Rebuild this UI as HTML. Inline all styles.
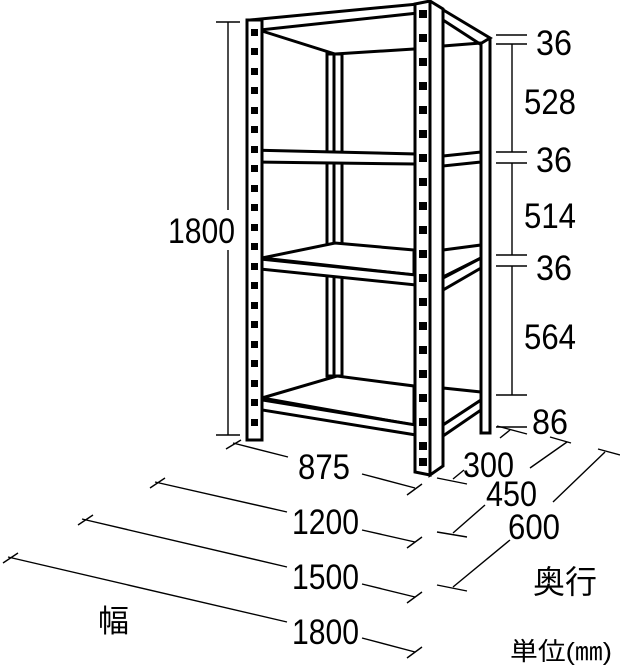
<!DOCTYPE html>
<html><head><meta charset="utf-8"><style>
html,body{margin:0;padding:0;background:#fff;}
svg{display:block}
text{font-family:"Liberation Sans","Noto Sans CJK JP",sans-serif;fill:#000}
.n{font-size:35px}
</style></head><body>
<svg width="620" height="665" viewBox="0 0 620 665" xmlns="http://www.w3.org/2000/svg">
<g stroke="#000" stroke-width="3" fill="none" stroke-linejoin="miter">
 <rect x="327" y="54" width="7" height="322" fill="#fff"/>
 <rect x="334" y="54" width="8" height="322" fill="#fff"/>
 <rect x="481" y="39" width="9" height="394" fill="#fff"/>
 <polygon points="250,20 418,4 418,13 250,31" fill="#fff"/>
 <polyline points="262,31 335,54 414,49"/>
 <polygon points="430,2 490,38 480,44 443,20" fill="#fff"/>
 <line x1="443" y1="46" x2="481" y2="43"/>
 <polygon points="250,150 416,154 416,164 250,162" fill="#fff"/>
 <polygon points="443,156 481,152 481,162 443,166" fill="#fff"/>
 <polygon points="262,258 335,243 414,250 414,275" fill="#fff"/>
 <polygon points="250,258 416,275 416,285 250,268" fill="#fff"/>
 <polygon points="443,250 481,245 481,258 443,277" fill="#fff"/>
 <polygon points="443,278 481,258 481,268 443,290" fill="#fff"/>
 <polygon points="262,398 337,376 414,386 414,425" fill="#fff"/>
 <polygon points="250,398 416,425 416,435 250,408" fill="#fff"/>
 <polygon points="443,388 481,392 481,400 443,425" fill="#fff"/>
 <polygon points="443,425 481,400 481,410 443,436" fill="#fff"/>
 <rect x="247" y="20" width="15" height="420" fill="#fff"/>
 <polygon points="415,4 430,1 430,475 415,472" fill="#fff"/>
 <polygon points="430,1 443,9 443,466 430,475" fill="#fff"/>
</g>
<g fill="#000">
 <rect x="251" y="29" width="7" height="7"/><rect x="251" y="48" width="7" height="7"/><rect x="251" y="68" width="7" height="7"/><rect x="251" y="87" width="7" height="7"/><rect x="251" y="107" width="7" height="7"/><rect x="251" y="126" width="7" height="7"/><rect x="251" y="146" width="7" height="7"/><rect x="251" y="165" width="7" height="7"/><rect x="251" y="185" width="7" height="7"/><rect x="251" y="204" width="7" height="7"/><rect x="251" y="224" width="7" height="7"/><rect x="251" y="243" width="7" height="7"/><rect x="251" y="263" width="7" height="7"/><rect x="251" y="282" width="7" height="7"/><rect x="251" y="302" width="7" height="7"/><rect x="251" y="321" width="7" height="7"/><rect x="251" y="341" width="7" height="7"/><rect x="251" y="360" width="7" height="7"/><rect x="251" y="380" width="7" height="7"/><rect x="251" y="399" width="7" height="7"/><rect x="251" y="419" width="7" height="7"/>
 <rect x="419" y="10" width="8" height="8"/><rect x="419" y="34" width="8" height="8"/><rect x="419" y="58" width="8" height="8"/><rect x="419" y="82" width="8" height="8"/><rect x="419" y="106" width="8" height="8"/><rect x="419" y="130" width="8" height="8"/><rect x="419" y="154" width="8" height="8"/><rect x="419" y="178" width="8" height="8"/><rect x="419" y="202" width="8" height="8"/><rect x="419" y="226" width="8" height="8"/><rect x="419" y="250" width="8" height="8"/><rect x="419" y="274" width="8" height="8"/><rect x="419" y="298" width="8" height="8"/><rect x="419" y="322" width="8" height="8"/><rect x="419" y="346" width="8" height="8"/><rect x="419" y="370" width="8" height="8"/><rect x="419" y="394" width="8" height="8"/><rect x="419" y="418" width="8" height="8"/><rect x="419" y="442" width="8" height="8"/><rect x="419" y="458" width="8" height="8"/>
</g>
<g stroke="#000" stroke-width="1.4" fill="none">
 <line x1="228" y1="22" x2="228" y2="210"/><line x1="228" y1="250" x2="228" y2="435"/>
 <line x1="216" y1="22" x2="240" y2="22"/><line x1="216" y1="435" x2="240" y2="435"/>
 <line x1="496" y1="35" x2="527" y2="35"/><line x1="496" y1="44" x2="527" y2="44"/>
 <line x1="496" y1="152" x2="527" y2="152"/><line x1="496" y1="163" x2="527" y2="163"/>
 <line x1="496" y1="255" x2="527" y2="255"/><line x1="496" y1="266" x2="527" y2="266"/>
 <line x1="496" y1="395" x2="527" y2="395"/>
 <line x1="496" y1="427" x2="527" y2="427"/>
 <line x1="512" y1="44" x2="512" y2="152"/><line x1="512" y1="163" x2="512" y2="255"/><line x1="512" y1="266" x2="512" y2="395"/>
 <line x1="233" y1="443" x2="288" y2="457"/><line x1="362" y1="474" x2="415" y2="488"/>
 <line x1="226" y1="449" x2="241" y2="440"/><line x1="407" y1="495" x2="422" y2="484"/>
 <line x1="155" y1="482" x2="287" y2="512"/><line x1="362" y1="530" x2="415" y2="542"/>
 <line x1="150" y1="488" x2="165" y2="478"/><line x1="407" y1="548" x2="422" y2="537"/>
 <line x1="82" y1="519" x2="287" y2="567"/><line x1="362" y1="584" x2="415" y2="597"/>
 <line x1="78" y1="525" x2="93" y2="515"/><line x1="407" y1="603" x2="422" y2="592"/>
 <line x1="8" y1="557" x2="287" y2="622"/><line x1="362" y1="638" x2="415" y2="652"/>
 <line x1="3" y1="563" x2="18" y2="553"/><line x1="407" y1="658" x2="422" y2="647"/>
 <line x1="437" y1="478" x2="467" y2="484"/><line x1="453" y1="479" x2="464" y2="470"/>
 <line x1="500" y1="438" x2="510" y2="430"/><line x1="497" y1="426" x2="527" y2="434"/>
 <line x1="437" y1="532" x2="467" y2="537"/><line x1="453" y1="533" x2="485" y2="505"/>
 <line x1="530" y1="468" x2="567" y2="442"/><line x1="550" y1="437" x2="571" y2="443"/>
 <line x1="437" y1="585" x2="467" y2="591"/><line x1="453" y1="587" x2="510" y2="540"/>
 <line x1="553" y1="502" x2="605" y2="452"/><line x1="598" y1="449" x2="620" y2="455"/>
</g>
<text class="n" x="168" y="243" textLength="67" lengthAdjust="spacingAndGlyphs">1800</text>
<text class="n" x="536" y="55" textLength="36" lengthAdjust="spacingAndGlyphs">36</text>
<text class="n" x="524" y="114" textLength="52" lengthAdjust="spacingAndGlyphs">528</text>
<text class="n" x="536" y="172" textLength="36" lengthAdjust="spacingAndGlyphs">36</text>
<text class="n" x="524" y="228" textLength="52" lengthAdjust="spacingAndGlyphs">514</text>
<text class="n" x="536" y="280" textLength="36" lengthAdjust="spacingAndGlyphs">36</text>
<text class="n" x="524" y="349" textLength="52" lengthAdjust="spacingAndGlyphs">564</text>
<text class="n" x="532" y="434" textLength="36" lengthAdjust="spacingAndGlyphs">86</text>
<text class="n" x="298" y="479" textLength="52" lengthAdjust="spacingAndGlyphs">875</text>
<text class="n" x="463" y="477" textLength="51" lengthAdjust="spacingAndGlyphs">300</text>
<text class="n" x="486" y="506" textLength="51" lengthAdjust="spacingAndGlyphs">450</text>
<text class="n" x="508" y="539" textLength="52" lengthAdjust="spacingAndGlyphs">600</text>
<text class="n" x="292" y="534" textLength="67" lengthAdjust="spacingAndGlyphs">1200</text>
<text class="n" x="292" y="589" textLength="67" lengthAdjust="spacingAndGlyphs">1500</text>
<text class="n" x="292" y="644" textLength="67" lengthAdjust="spacingAndGlyphs">1800</text>
<text x="98" y="632" style="font-size:31px">幅</text>
<text x="533" y="593" style="font-size:32px">奥行</text>
<text x="510" y="660" style="font-size:25px" textLength="102" lengthAdjust="spacingAndGlyphs">単位(㎜)</text>
</svg>
</body></html>
